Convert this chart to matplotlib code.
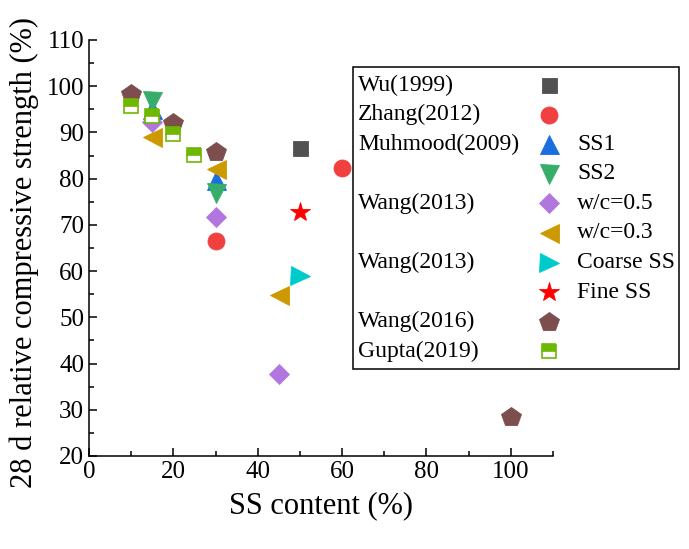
import matplotlib.pyplot as plt
from matplotlib.lines import Line2D
from matplotlib.patches import Rectangle
from matplotlib.ticker import MultipleLocator

plt.rcParams['font.family'] = ['Liberation Serif', 'DejaVu Serif']

# data
wu_x, wu_y = [50], [86.6]
zhang_x, zhang_y = [30, 60], [66.5, 82.3]
ss1_x, ss1_y = [15, 30], [95.0, 79.8]
ss2_x, ss2_y = [15, 30], [96.9, 76.8]
wc05_x, wc05_y = [15, 30, 45], [92.2, 71.8, 37.7]
wc03_x, wc03_y = [15, 30, 45], [89.1, 82.0, 54.8]
coarse_x, coarse_y = [50], [58.9]
fine_x, fine_y = [50], [72.8]
wang16_x, wang16_y = [10, 20, 30, 100], [98.3, 92.0, 85.8, 28.4]
gupta_x, gupta_y = [10, 15, 20, 25], [95.7, 93.5, 89.6, 85.1]

PX = 72 / 100.0  # pixel -> point at dpi 100

series = [
    # group label, sub label, x, y, marker, colour, size(px)
    ('Wu(1999)', '', wu_x, wu_y, 's', '#515151', 15),
    ('Zhang(2012)', '', zhang_x, zhang_y, 'o', '#F14040', 17),
    ('Muhmood(2009)', 'SS1', ss1_x, ss1_y, '^', '#1A6FDF', 19),
    ('', 'SS2', ss2_x, ss2_y, 'v', '#37AD6B', 19),
    ('Wang(2013)', 'w/c=0.5', wc05_x, wc05_y, 'D', '#B177DE', 14),
    ('', 'w/c=0.3', wc03_x, wc03_y, '<', '#CC9900', 19),
    ('Wang(2013)', 'Coarse SS', coarse_x, coarse_y, '>', '#00CBCC', 19),
    ('', 'Fine SS', fine_x, fine_y, '*', '#FF0000', 21),
    ('Wang(2016)', '', wang16_x, wang16_y, 'p', '#7D4E4E', 21),
    ('Gupta(2019)', '', gupta_x, gupta_y, 's', '#6FB802', 14),
]

fig = plt.figure(figsize=(6.89, 5.49), dpi=100)
ax = fig.add_axes([89 / 689, 1 - 456 / 549, (553 - 89) / 689, (456 - 40) / 549])

for name, sub, xs, ys, mk, col, size in series:
    kw = dict(ls='none', marker=mk, ms=size * PX, color=col, mec=col, mew=0.6)
    if name == 'Gupta(2019)':
        kw.update(fillstyle='top', markerfacecoloralt='white', mew=1.2)
    ax.plot(xs, ys, **kw)

ax.set_xlim(0, 110)
ax.set_ylim(20, 110)
ax.xaxis.set_major_locator(MultipleLocator(20))
ax.xaxis.set_minor_locator(MultipleLocator(10))
ax.yaxis.set_major_locator(MultipleLocator(10))
ax.yaxis.set_minor_locator(MultipleLocator(5))
ax.tick_params(which='both', direction='in', width=1.1, labelsize=18)
ax.tick_params(which='major', length=6)
ax.tick_params(which='minor', length=3.5)
ax.spines['top'].set_visible(False)
ax.spines['right'].set_visible(False)
for s in ('left', 'bottom'):
    ax.spines[s].set_linewidth(1.1)
ax.set_xlabel('SS content (%)', fontsize=22, labelpad=6)
ax.set_ylabel('28 d relative compressive strength (%)', fontsize=22)
ax.yaxis.set_label_coords(-0.108, 0.49)

# hand-made legend box, placed in figure pixels
def fx(px):
    return px / 689.0

def fy(py):
    return 1 - py / 549.0

fig.add_artist(Rectangle((fx(353), fy(369)), fx(679) - fx(353), fy(67) - fy(369),
                         transform=fig.transFigure, fill=False, ec='black', lw=1.1))
row0, step = 85, 29.6
for i, (name, sub, xs, ys, mk, col, size) in enumerate(series):
    yy = fy(row0 + i * step)
    if name:
        fig.text(fx(358), yy, name, fontsize=17, va='center', ha='left')
    if sub:
        fig.text(fx(577), yy, sub, fontsize=17, va='center', ha='left')
    kw = dict(ls='none', marker=mk, ms=size * PX, color=col, mec=col, mew=0.6)
    if name == 'Gupta(2019)':
        kw.update(fillstyle='top', markerfacecoloralt='white', mew=1.2)
    fig.add_artist(Line2D([fx(549)], [yy], transform=fig.transFigure, **kw))

fig.savefig('out.png', dpi=100)
